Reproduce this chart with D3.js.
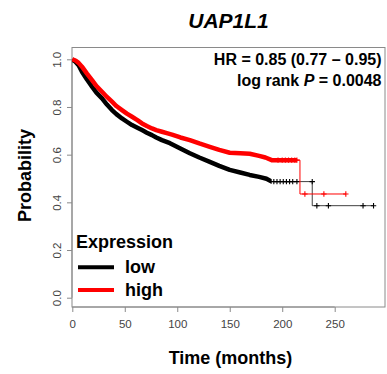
<!DOCTYPE html>
<html><head><meta charset="utf-8">
<script src="https://cdn.jsdelivr.net/npm/d3@7"></script>
<style>body{margin:0;background:#fff}svg{display:block;font-family:"Liberation Sans",Arial,sans-serif}</style>
</head><body><svg id="c" width="387" height="374"></svg>
<script>
// ---- data ----
const title = "UAP1L1";
const seriesNames = ["low", "high"];
const seriesColors = ["#000000", "#ff0000"];
const xTicks = [0, 50, 100, 150, 200, 250];
const yTicks = [0.0, 0.2, 0.4, 0.6, 0.8, 1.0];
// Kaplan-Meier curve [time (months), survival]
// (dense events make the early part look smooth; late drops are explicit corners)
const lowCurve = [[0,1.0],[3,0.99],[6,0.975],[9.2,0.948],[14,0.915],[18.8,0.885],[23,0.86],[28.3,0.836],[33,0.81],[37.8,0.787],[42,0.77],[47.3,0.752],[52,0.738],[56.9,0.724],[62,0.713],[66.4,0.703],[71,0.692],[75.9,0.682],[80,0.672],[85.4,0.661],[93,0.648],[102,0.628],[112,0.606],[121,0.588],[131,0.57],[140,0.553],[150,0.536],[160,0.525],[169,0.515],[178,0.507],[185,0.499],[190,0.487],[228.6,0.487],[228.6,0.386],[287,0.386]];
const highCurve = [[0,1.0],[3,0.995],[6,0.985],[9.2,0.969],[14,0.94],[18.8,0.913],[23,0.888],[28.3,0.864],[33,0.842],[37.8,0.822],[42,0.804],[47.3,0.787],[52,0.772],[56.9,0.759],[62,0.745],[66.4,0.731],[71,0.72],[75.9,0.71],[80,0.703],[85.4,0.696],[90,0.69],[95,0.684],[103,0.672],[112,0.661],[121,0.647],[131,0.633],[140,0.62],[150,0.608],[160,0.606],[169,0.604],[178,0.595],[184,0.588],[190,0.577],[216.9,0.577],[216.9,0.435],[260.6,0.435]];
// censored observations visible as separate marks [time, survival]
const lowCensorT = [192,195,198,201,204,207,210,214,228.6,233,244,277,287];
const lowCensorS = [0.487,0.487,0.487,0.487,0.487,0.487,0.487,0.487,0.487,0.386,0.386,0.386,0.386];
const highCensorT = [196,200,203,206,209,212,214,221.6,239.7,260.6];
const highCensorS = [0.577,0.577,0.577,0.577,0.577,0.577,0.577,0.435,0.435,0.435];
// time up to which censor marks are so dense the line looks like a band
const lowDenseEnd = 190;
const highDenseEnd = 214;
const hrLine = "HR = 0.85 (0.77 \u2013 0.95)";
const pValue = "0.0048";

// ---- layout ----
const svg = d3.select("#c");
const box = {l:72, r:385, t:47.5, b:307};
const x = d3.scaleLinear().domain([0, 250]).range([72.3, 334.7]);
const y = d3.scaleLinear().domain([0, 1]).range([297.7, 59.3]);
const font = '"Liberation Sans",Arial,sans-serif';

// title
svg.append("text").attr("x", 228.5).attr("y", 28).attr("text-anchor","middle")
  .attr("font-size", 21).attr("font-weight","bold").attr("font-style","italic").text(title);

// box
svg.append("rect").attr("x", box.l).attr("y", box.t).attr("width", box.r-box.l).attr("height", box.b-box.t)
  .attr("fill","none").attr("stroke","#8a8a8a").attr("stroke-width",1);

// axes
const xAxis = d3.axisBottom(x).tickValues(xTicks).tickSize(5).tickPadding(8).tickFormat(d3.format("d"));
const gx = svg.append("g").attr("transform",`translate(0,${box.b})`).call(xAxis);
gx.select(".domain").attr("d", `M${x(0)},0H${x(250)}`).attr("stroke","#8a8a8a");
gx.selectAll(".tick line").attr("stroke","#8a8a8a");
gx.selectAll(".tick text").attr("font-size",11.5).attr("fill","#444").attr("font-family",font);

const yAxis = d3.axisLeft(y).tickValues(yTicks).tickSize(5).tickFormat(d3.format(".1f"));
const gy = svg.append("g").attr("transform",`translate(${box.l},0)`).call(yAxis);
gy.select(".domain").attr("d", `M0,${y(0)}V${y(1)}`).attr("stroke","#8a8a8a");
gy.selectAll(".tick line").attr("stroke","#8a8a8a");
gy.selectAll(".tick text").attr("font-size",11.5).attr("fill","#444").attr("font-family",font)
  .attr("text-anchor","middle").attr("x",0).attr("dy",0)
  .attr("transform","translate(-15,0) rotate(-90)").attr("y",4);

// axis titles
svg.append("text").attr("transform","translate(31,175.5) rotate(-90)").attr("text-anchor","middle")
  .attr("font-size",18).attr("font-weight","bold").text("Probability");
svg.append("text").attr("x",230.5).attr("y",364).attr("text-anchor","middle")
  .attr("font-size",18).attr("font-weight","bold").text("Time (months)");

// clip paths for dense bands
const defs = svg.append("defs");
[["clipLow", lowDenseEnd],["clipHigh", highDenseEnd]].forEach(([id, t]) => {
  defs.append("clipPath").attr("id", id).append("rect")
    .attr("x", box.l).attr("y", box.t).attr("width", x(t)-box.l).attr("height", box.b-box.t);
});

const line = d3.line().x(d => x(d[0])).y(d => y(d[1]));

const series = [
  {curve: lowCurve, ct: lowCensorT, cs: lowCensorS, clip: "clipLow", color: seriesColors[0]},
  {curve: highCurve, ct: highCensorT, cs: highCensorS, clip: "clipHigh", color: seriesColors[1]}
];
series.forEach(s => {
  const g = svg.append("g");
  g.append("path").attr("d", line(s.curve)).attr("fill","none").attr("stroke", s.color)
    .attr("stroke-width", 1).attr("opacity", s.color === "#000000" ? 0.75 : 1);
  g.append("path").attr("d", line(s.curve)).attr("fill","none").attr("stroke", s.color)
    .attr("stroke-width", 4.5).attr("stroke-linejoin","round").attr("clip-path", `url(#${s.clip})`);
  g.selectAll("path.cens").data(s.ct.map((t, i) => [t, s.cs[i]])).join("path").attr("class","cens")
    .attr("d", d => { const cx = x(d[0]), cy = y(d[1]); return `M${cx-2.7},${cy}H${cx+2.7}M${cx},${cy-2.7}V${cy+2.7}`; })
    .attr("stroke", s.color).attr("stroke-width", 1.1).attr("fill","none");
});

// HR annotation
svg.append("text").attr("x",381.5).attr("y",65).attr("text-anchor","end")
  .attr("font-size",16).attr("font-weight","bold").text(hrLine);
const pt = svg.append("text").attr("x",381.5).attr("y",85.5).attr("text-anchor","end")
  .attr("font-size",16).attr("font-weight","bold");
pt.append("tspan").text("log rank ");
pt.append("tspan").attr("font-style","italic").text("P");
pt.append("tspan").text(" = " + pValue);

// legend
svg.append("text").attr("x",76).attr("y",247.5).attr("font-size",18).attr("font-weight","bold").text("Expression");
seriesNames.forEach((n, i) => {
  const ly = 267.3 + i * 22.7;
  svg.append("line").attr("x1",78).attr("x2",114).attr("y1",ly).attr("y2",ly)
    .attr("stroke", seriesColors[i]).attr("stroke-width",4);
  svg.append("text").attr("x",125).attr("y",ly+6).attr("font-size",18).attr("font-weight","bold").text(n);
});
</script></body></html>
